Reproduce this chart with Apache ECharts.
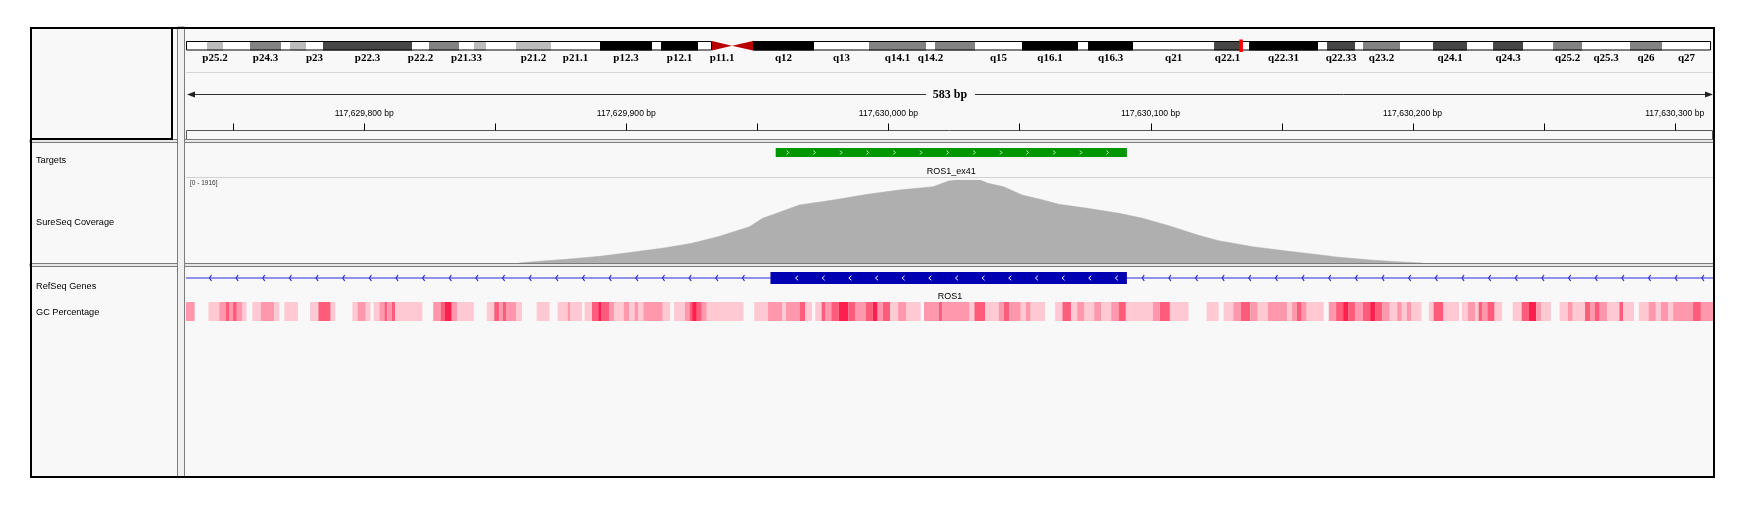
<!DOCTYPE html>
<html><head><meta charset="utf-8">
<script src="https://cdn.jsdelivr.net/npm/echarts@6/dist/echarts.min.js"></script>
<style>html,body{margin:0;padding:0;background:#fff;}#c{width:1749px;height:513px;}</style>
</head><body><div id="c"></div>
<script>
// ---------- DATA ----------
const viewStart = 117629732;
const viewEnd = 117630315;
const chromLengthMb = 171.1;

const bandNames = ['p25.3','p25.2','p25.1','p24.3','p24.2','p24.1','p23','p22.3','p22.2','p22.1','p21.33','p21.32','p21.31','p21.2','p21.1','p12.3','p12.2','p12.1','p11.2','p11.1','q11.1','q12','q13','q14.1','q14.2','q14.3','q15','q16.1','q16.2','q16.3','q21','q22.1','q22.2','q22.31','q22.32','q22.33','q23.1','q23.2','q23.3','q24.1','q24.2','q24.3','q25.1','q25.2','q25.3','q26','q27'];
const bandStartMb = [0,2.35,4.14,7.17,10.64,11.65,13.44,15.34,25.31,27.21,30.57,32.25,33.59,36.95,40.87,46.36,52.18,53.19,57.33,58.90,61.14,63.49,70.32,76.48,82.87,83.87,88.35,93.61,99.89,101.01,106.05,115.12,118.14,119.04,126.76,127.77,130.91,131.80,135.94,139.64,143.45,146.36,149.72,153.08,156.33,161.70,165.28];
const bandEndMb = [2.35,4.14,7.17,10.64,11.65,13.44,15.34,25.31,27.21,30.57,32.25,33.59,36.95,40.87,46.36,52.18,53.19,57.33,58.90,61.14,63.49,70.32,76.48,82.87,83.87,88.35,93.61,99.89,101.01,106.05,115.12,118.14,119.04,126.76,127.77,130.91,131.80,135.94,139.64,143.45,146.36,149.72,153.08,156.33,161.70,165.28,170.77];
const bandStains = ['gneg','gpos25','gneg','gpos50','gneg','gpos25','gneg','gpos75','gneg','gpos50','gneg','gpos25','gneg','gpos25','gneg','gpos100','gneg','gpos100','gneg','acen','acen','gpos100','gneg','gpos50','gneg','gpos50','gneg','gpos100','gneg','gpos100','gneg','gpos75','gneg','gpos100','gneg','gpos75','gneg','gpos50','gneg','gpos75','gneg','gpos75','gneg','gpos50','gneg','gpos50','gneg'];
const bandLabels = ['p25.2','p24.3','p23','p22.3','p22.2','p21.33','p21.2','p21.1','p12.3','p12.1','p11.1','q12','q13','q14.1','q14.2','q15','q16.1','q16.3','q21','q22.1','q22.31','q22.33','q23.2','q24.1','q24.3','q25.2','q25.3','q26','q27'];
const markerMb = [117.95, 118.35];

const rulerTicks = [117629750,117629800,117629850,117629900,117629950,117630000,117630050,117630100,117630150,117630200,117630250,117630300];

const targetName = 'ROS1_ex41';
const targetRange = [117629957, 117630091];
const geneName = 'ROS1';
const geneRange = [117609463, 117747018];
const exonRange = [117629955, 117630091];

const covMax = 1916;
const covPos = [117629859,117629868,117629877,117629890,117629902,117629915,117629925,117629935,117629941,117629947,117629952,117629959,117629966,117629979,117629992,117630004,117630017,117630023,117630026,117630035,117630038,117630044,117630051,117630059,117630065,117630076,117630088,117630097,117630107,117630118,117630126,117630139,117630152,117630165,117630171,117630184,117630194,117630204];
const covDepth = [0,46,85,155,247,353,455,607,723,838,1032,1184,1339,1454,1586,1685,1761,1893,1916,1916,1840,1761,1570,1454,1355,1262,1147,1032,861,646,515,376,277,185,138,69,30,0];

// GC segments: [start offset bp, end offset bp, intensity level 1..4]
const gcSegments = [
[0,3.3,2],[8.6,12.7,1],[12.7,15.1,2],[15.1,16.4,3],[16.4,17.9,2],[17.9,19.4,3],[19.4,21.6,2],[21.6,23.1,1],
[25.3,28.5,1],[28.5,33.7,2],[33.7,35.6,1],[37.5,42.7,1],[47.3,50.5,1],[50.5,55.2,3],[55.2,57.0,1],
[63.5,65.4,1],[65.4,68.6,2],[68.6,70.4,1],[71.6,73.8,1],[73.8,75.7,2],[75.7,76.8,3],[76.8,78.5,2],[78.5,79.8,3],[79.8,90.2,1],
[94.3,97.1,2],[97.1,98.6,3],[98.6,101.4,4],[101.4,103.6,2],[103.6,109.8,1],
[114.8,117.6,1],[117.6,119.5,3],[119.5,120.8,2],[120.8,122.3,3],[122.3,126.0,2],[126.0,128.2,1],
[133.8,138.7,1],[141.8,145.6,1],[145.6,146.5,2],[146.5,151.1,1],
[152.1,154.9,1],[154.9,157.3,3],[157.3,158.6,4],[158.6,161.4,3],[161.4,163.3,2],[163.3,167.0,1],[167.0,169.2,2],[169.2,171.1,1],[171.1,172.6,2],[172.6,174.5,1],[174.5,181.9,2],[181.9,184.7,1],
[186.2,190.3,1],[190.3,192.1,2],[192.1,193.1,3],[193.1,194.9,4],[194.9,196.8,3],[196.8,198.7,2],[198.7,212.7,1],
[216.8,222.0,1],[222.0,227.6,2],[227.6,228.9,1],[228.9,234.1,2],[234.1,236.3,3],[236.3,238.8,1],
[240.1,242.5,1],[242.5,243.8,3],[243.8,246.2,2],[246.2,249.0,3],[249.0,252.7,4],[252.7,255.5,3],[255.5,259.3,2],[259.3,262.0,3],[262.0,263.9,4],[263.9,265.8,2],[265.8,268.6,3],[268.6,271.7,1],[271.7,274.7,2],[274.7,280.3,1],
[281.6,287.2,2],[287.2,288.5,3],[288.5,299.0,2],[299.0,300.8,1],[300.8,304.9,3],[304.9,310.1,1],[310.1,312.0,2],[312.0,314.2,3],[314.2,318.5,2],[318.5,320.4,1],[320.4,322.3,2],[322.3,327.8,1],
[331.6,334.4,1],[334.4,337.7,3],[337.7,340.0,1],[340.0,342.8,2],[342.8,346.5,1],[346.5,349.3,2],[349.3,353.0,1],[353.0,355.8,2],[355.8,358.6,3],[358.6,368.9,1],[368.9,371.6,2],[371.6,375.4,3],[375.4,382.5,1],
[389.4,394.0,1],[395.9,399.6,1],[399.6,402.4,2],[402.4,406.1,3],[406.1,408.9,2],[408.9,412.7,1],[412.7,420.1,2],[420.1,422.0,1],[422.0,423.8,2],[423.8,425.7,3],[425.7,427.6,2],[427.6,434.1,1],
[436.0,438.8,2],[438.8,441.5,3],[441.5,443.4,4],[443.4,446.2,3],[446.2,449.0,2],[449.0,451.8,3],[451.8,453.7,4],[453.7,456.5,3],[456.5,459.3,2],[459.3,462.1,1],[462.1,463.9,2],[463.9,465.8,1],[465.8,467.6,2],[467.6,471.4,1],
[474.2,476.0,1],[476.0,479.8,3],[479.8,485.7,1],[486.8,489.1,1],[489.1,491.9,2],[491.9,493.2,1],[493.2,494.7,3],[494.7,496.5,2],[496.5,499.3,3],[499.3,502.1,1],
[506.2,509.6,1],[509.6,512.4,3],[512.4,515.2,4],[515.2,517.0,2],[517.0,520.8,1],
[524.1,527.3,1],[527.3,529.1,2],[529.1,533.8,1],[533.8,535.7,3],[535.7,537.5,2],[537.5,539.4,3],[539.4,542.2,2],[542.2,546.9,1],[546.9,548.3,3],[548.3,552.5,1],
[554.3,558.0,1],[558.0,560.8,2],[560.8,562.7,1],[562.7,565.5,2],[565.5,567.4,1],[567.4,575.0,2],[575.0,578.0,3],[578.0,583.0,2]
];

const trackNames = ['Targets','SureSeq Coverage','RefSeq Genes','GC Percentage'];

// ---------- STYLE / LAYOUT ----------
const L = 186, W = 1528;
const SANS = '"Liberation Sans", Arial, sans-serif';
const SERIF = '"Liberation Serif", "Times New Roman", serif';
const stainColor = {gneg:'#ffffff', gpos25:'#bcbcbc', gpos50:'#828282', gpos75:'#454545', gpos100:'#000000', acen:'#b80000'};
const gcColors = [null, '#ffc9d4', '#ff98ac', '#ff5c7c', '#ff1f4e'];

function txt(x, y, text, font, align, valign, fill) {
  return {type:'text', x:x, y:y, z:120, silent:true,
    style:{text:text, font:font, fill:fill||'#000', align:align||'left', verticalAlign:valign||'middle', textAlign:align||'left', textVerticalAlign:valign||'middle'}};
}
function chevrons(xFrom, xTo, xFirst, step, yc, dir, h, w, color, lw) {
  const out = [];
  for (let x = xFirst; x <= xTo; x += step) {
    if (x < xFrom) continue;
    const pts = dir > 0 ? [[x - w/2, yc - h/2],[x + w/2, yc],[x - w/2, yc + h/2]]
                        : [[x + w/2, yc - h/2],[x - w/2, yc],[x + w/2, yc + h/2]];
    out.push({type:'polyline', shape:{points:pts}, style:{stroke:color, lineWidth:lw, fill:null}});
  }
  return out;
}

const chart = echarts.init(document.getElementById('c'), null, {renderer:'canvas', width:1749, height:513});

const grids = [
  {left:L, width:W, top:41, height:9.5},    // ideogram
  {left:L, width:W, top:100, height:30.5},  // ruler
  {left:L, width:W, top:148, height:9},     // targets
  {left:L, width:W, top:180, height:83},    // coverage
  {left:L, width:W, top:272, height:12},    // genes
  {left:L, width:W, top:302, height:19}     // gc
];
const xAxes = grids.map((g, i) => ({gridIndex:i, type:'value', show:false,
  min: i === 0 ? 0 : viewStart, max: i === 0 ? chromLengthMb : viewEnd}));
const yAxes = grids.map((g, i) => ({gridIndex:i, type:'value', show:false, min:0, max: i === 3 ? covMax : 1}));

const acenIdx = bandStains.map((s,i)=>s==='acen'?i:-1).filter(i=>i>=0);
const armData = [[0, bandStartMb[acenIdx[0]]], [bandEndMb[acenIdx[acenIdx.length-1]], bandEndMb[bandEndMb.length-1]]];

const series = [
  { // ideogram bands
    type:'custom', xAxisIndex:0, yAxisIndex:0, silent:true, z:5,
    data: bandStartMb.map((s,i)=>[s, bandEndMb[i]]),
    renderItem(params, api) {
      const i = params.dataIndex;
      const a = api.coord([api.value(0), 1]), b = api.coord([api.value(1), 0]);
      const x0=a[0], x1=b[0], y0=a[1], y1=b[1];
      const ch = [];
      if (bandStains[i] === 'acen') {
        const ym = (y0+y1)/2;
        const pts = bandNames[i][0]==='p' ? [[x0,y0],[x1,ym],[x0,y1]] : [[x1,y0],[x0,ym],[x1,y1]];
        ch.push({type:'polygon', shape:{points:pts}, style:{fill:stainColor.acen}});
      } else {
        ch.push({type:'rect', shape:{x:x0, y:y0, width:x1-x0, height:y1-y0}, style:{fill:stainColor[bandStains[i]]}});
      }
      if (bandLabels.indexOf(bandNames[i]) >= 0) {
        ch.push(txt((x0+x1)/2, y1+2.5, bandNames[i], 'bold 11px ' + SERIF, 'center', 'top'));
      }
      return {type:'group', children:ch};
    }
  },
  { // chromosome arm outlines
    type:'custom', xAxisIndex:0, yAxisIndex:0, silent:true, z:6,
    data: armData,
    renderItem(params, api) {
      const a = api.coord([api.value(0), 1]), b = api.coord([api.value(1), 0]);
      return {type:'rect', shape:{x:a[0]+0.5, y:a[1]+0.5, width:b[0]-a[0]-1, height:b[1]-a[1]-1},
        style:{stroke:'#000', lineWidth:1, fill:null}};
    }
  },
  { // current location marker
    type:'custom', xAxisIndex:0, yAxisIndex:0, silent:true, z:7,
    data: [markerMb],
    renderItem(params, api) {
      const a = api.coord([api.value(0), 1]), b = api.coord([api.value(1), 0]);
      return {type:'rect', shape:{x:a[0], y:a[1]-1.5, width:Math.max(2.5, b[0]-a[0]), height:b[1]-a[1]+3}, style:{fill:'#ff0000'}};
    }
  },
  { // ruler ticks and labels
    type:'custom', xAxisIndex:1, yAxisIndex:1, silent:true, z:5,
    data: rulerTicks.map(v=>[v, 0]),
    renderItem(params, api) {
      const v = api.value(0);
      const p = api.coord([v, 0]);
      const ch = [{type:'line', shape:{x1:Math.round(p[0])+0.5, y1:p[1]-7, x2:Math.round(p[0])+0.5, y2:p[1]}, style:{stroke:'#000', lineWidth:1}}];
      if (v % 100 === 0) ch.push(txt(p[0], p[1]-16.5, v.toLocaleString('en-US') + ' bp', '8.6px ' + SANS, 'center', 'middle', '#000'));
      return {type:'group', children:ch};
    }
  },
  { // targets
    type:'custom', xAxisIndex:2, yAxisIndex:2, silent:true, z:5,
    data: [targetRange],
    renderItem(params, api) {
      const a = api.coord([api.value(0), 1]), b = api.coord([api.value(1), 0]);
      const ch = [{type:'rect', shape:{x:a[0], y:a[1], width:b[0]-a[0], height:b[1]-a[1]}, style:{fill:'#009600'}}];
      const yc = (a[1]+b[1])/2;
      ch.push(...chevrons(a[0]+4, b[0]-4, a[0]+12, 26.65, yc, 1, 4, 2, '#d8f5d8', 1));
      ch.push(txt((a[0]+b[0])/2, 172, targetName, '9px ' + SANS, 'center', 'middle', '#000'));
      return {type:'group', children:ch};
    }
  },
  { // coverage
    type:'line', xAxisIndex:3, yAxisIndex:3, silent:true, z:5,
    data: covPos.map((p,i)=>[p, covDepth[i]]),
    symbol:'none', showSymbol:false,
    lineStyle:{color:'#afafaf', width:0.5},
    areaStyle:{color:'#afafaf', opacity:1}
  },
  { // gene
    type:'custom', xAxisIndex:4, yAxisIndex:4, silent:true, z:5,
    data: [[geneRange[0], geneRange[1], exonRange[0], exonRange[1]]],
    renderItem(params, api) {
      const cs = params.coordSys;
      const g0 = Math.max(cs.x, api.coord([api.value(0), 0])[0]);
      const g1 = Math.min(cs.x + cs.width, api.coord([api.value(1), 0])[0]);
      const e0 = api.coord([api.value(2), 1]), e1 = api.coord([api.value(3), 0]);
      const yc = (e0[1]+e1[1])/2;
      const ch = [{type:'line', shape:{x1:g0, y1:yc, x2:g1, y2:yc}, style:{stroke:'#2a2ae0', lineWidth:1.2}}];
      const step = 26.65, first = cs.x + 24.5;
      ch.push(...chevrons(g0, e0[0]-2, first, step, yc, -1, 6, 2, '#2a2ae0', 1.2));
      ch.push(...chevrons(e1[0]+2, g1, first, step, yc, -1, 6, 2, '#2a2ae0', 1.2));
      ch.push({type:'rect', shape:{x:e0[0], y:e0[1], width:e1[0]-e0[0], height:e1[1]-e0[1]}, style:{fill:'#0000b2'}});
      ch.push(...chevrons(e0[0]+3, e1[0]-3, first, step, yc, -1, 4.5, 2.5, '#ffffff', 1));
      ch.push(txt((g0+g1)/2, 297, geneName, '9px ' + SANS, 'center', 'middle', '#000'));
      return {type:'group', children:ch};
    }
  },
  { // GC percentage
    type:'custom', xAxisIndex:5, yAxisIndex:5, silent:true, z:5,
    data: gcSegments.map(s=>[viewStart + s[0], viewStart + s[1], s[2]]),
    renderItem(params, api) {
      const a = api.coord([api.value(0), 1]), b = api.coord([api.value(1), 0]);
      return {type:'rect', shape:{x:a[0], y:a[1], width:b[0]-a[0], height:b[1]-a[1]}, style:{fill:gcColors[api.value(2)]}};
    }
  }
];

// decorations
const R = L + W;
const spanText = (viewEnd - viewStart) + ' bp';
const gfx = [
  {type:'rect', z:-10, shape:{x:30, y:27, width:R-30, height:477-27}, style:{fill:'#f8f8f8'}},
  // header light separator
  {type:'line', z:1, shape:{x1:L, y1:72.5, x2:R, y2:72.5}, style:{stroke:'#d6d6d6', lineWidth:1}},
  // span arrow
  {type:'line', z:1, shape:{x1:L+2, y1:94.5, x2:926, y2:94.5}, style:{stroke:'#333', lineWidth:1}},
  {type:'line', z:1, shape:{x1:975, y1:94.5, x2:R-2, y2:94.5}, style:{stroke:'#333', lineWidth:1}},
  {type:'polygon', z:1, shape:{points:[[L+1,94.5],[L+9,91.5],[L+9,97.5]]}, style:{fill:'#222'}},
  {type:'polygon', z:1, shape:{points:[[R-1,94.5],[R-9,91.5],[R-9,97.5]]}, style:{fill:'#222'}},
  txt((L+R)/2, 95, spanText, 'bold 12px ' + SERIF, 'center', 'middle', '#000'),
  // ruler box
  {type:'rect', z:1, shape:{x:L+0.5, y:130.5, width:W-2, height:9}, style:{stroke:'#555', lineWidth:1, fill:null}},
  // targets/coverage separator
  {type:'line', z:1, shape:{x1:L, y1:177.5, x2:R, y2:177.5}, style:{stroke:'#d2d2d2', lineWidth:1}},
  // horizontal double dividers
  {type:'rect', z:90, shape:{x:30, y:139.5, width:R-30, height:3}, style:{fill:'#e6e6e6', stroke:'#7c7c7c', lineWidth:1}},
  {type:'rect', z:90, shape:{x:30, y:263.5, width:R-30, height:3}, style:{fill:'#e6e6e6', stroke:'#7c7c7c', lineWidth:1}},
  // vertical double divider
  {type:'rect', z:91, shape:{x:177.5, y:27, width:7, height:450}, style:{fill:'#f0f0f0', stroke:'#7c7c7c', lineWidth:1}},
  // name header box
  {type:'rect', z:95, shape:{x:31, y:28, width:141, height:111}, style:{stroke:'#000', lineWidth:2, fill:null}},
  // outer border
  {type:'rect', z:100, shape:{x:31, y:28, width:R-31, height:449}, style:{stroke:'#000', lineWidth:2, fill:null}},
  // track names
  txt(36, 160, trackNames[0], '9.2px ' + SANS, 'left', 'middle', '#000'),
  txt(36, 222, trackNames[1], '9.2px ' + SANS, 'left', 'middle', '#000'),
  txt(36, 286, trackNames[2], '9.2px ' + SANS, 'left', 'middle', '#000'),
  txt(36, 312, trackNames[3], '9.2px ' + SANS, 'left', 'middle', '#000'),
  // data range label
  txt(190, 183, '[0 - ' + covMax + ']', '6.5px ' + SANS, 'left', 'middle', '#333')
];

chart.setOption({
  animation:false,
  backgroundColor:'#ffffff',
  grid:grids, xAxis:xAxes, yAxis:yAxes, series:series,
  graphic:{elements:gfx}
});
</script></body></html>
